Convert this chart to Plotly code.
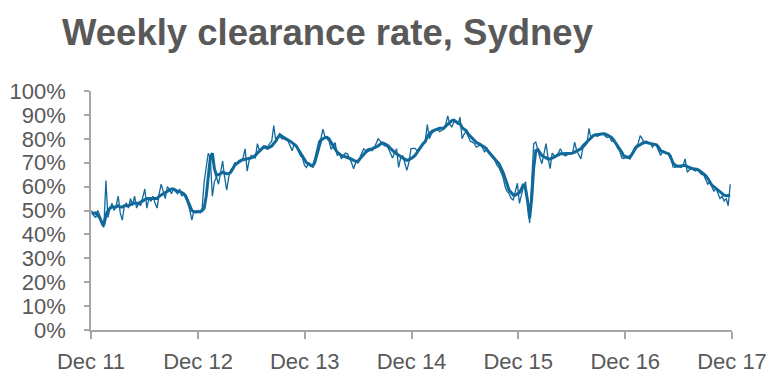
import pandas as pd
import plotly.graph_objects as go

start_date = "2011-12-03"

# Weekly clearance rate (%) - thin line
clearance_weekly = [
    # Dec 11 - Nov 12
    50, 48, 47, 50, 48, 44, 43, 62.5, 47, 51, 53, 50, 52, 56, 49, 46, 52, 53, 51, 55,
    52, 56, 51, 53, 52, 55, 59, 51, 55, 54, 56, 53, 51, 57, 61, 58, 55, 60, 59, 57,
    59, 58, 57, 59, 56, 57, 55, 53, 50, 46, 50, 49,
    # Dec 12 - Nov 13
    50, 49, 51, 62, 68, 74, 72, 56, 62, 64, 61, 66, 70.7, 64, 58.5, 64, 67, 68, 70, 69.6,
    71, 70.5, 72, 75.8, 66.5, 71, 73, 72, 72, 78, 75, 76, 77, 77, 76.5, 78, 79, 85.5,
    79, 81, 81, 80, 80, 79.5, 79, 77, 75, 78, 77, 75, 73, 72, 69,
    # Dec 13 - Nov 14
    68, 70, 68.5, 69, 71.6, 75, 79, 80, 84, 81, 80, 79, 75.6, 77, 78.4, 73, 74, 71.6,
    73, 74, 73.7, 72, 70, 67.5, 70, 71, 72, 74, 75.8, 75, 75.8, 76, 75, 76, 78, 80, 79,
    78, 77, 77, 76, 74, 72, 74, 75.8, 68, 72, 73, 70, 66.8, 70, 75.8,
    # Dec 14 - Nov 15
    76, 76, 75, 76, 77, 78, 79, 86, 80, 82, 83, 84, 84, 83, 83.5, 84, 86, 89.6, 86, 85,
    87, 87, 86, 89, 80, 82, 83, 81, 79, 78.6, 78, 76.5, 77, 78, 76, 74.4, 76.5, 74, 73,
    72, 71, 69, 68, 66, 64, 60, 58, 57, 55, 54.4, 58, 61.4,
    # Dec 15 - Nov 16
    53, 57, 60, 62, 52, 44.8, 62, 78, 78.6, 75, 72, 69.6, 74, 78, 72, 67.5, 74, 73, 73,
    74, 75.8, 74, 73, 73, 74, 73.5, 74, 78.6, 75, 73, 71.6, 76, 77, 78, 84.4, 80, 81, 82,
    81, 81.5, 82, 82.5, 81, 80.5, 81, 79, 79, 78, 76, 75, 72, 71.8,
    # Dec 16 - Nov 17
    73, 72, 71.5, 73, 75.8, 77, 78, 81.3, 80, 78, 79, 78.5, 78, 76.5, 77.9, 77, 75, 73,
    75, 74.4, 74, 73.5, 73, 68.3, 68, 69, 68.5, 68, 69, 71.6, 66, 67, 67.5, 67, 66.5,
    67, 66, 65, 65, 63, 61, 62, 60, 58, 59.3, 57, 55, 56, 54, 55, 52, 61,
]

# Smoothed clearance rate (%) - thick line
clearance_avg = [
    # Dec 11 - Nov 12
    48.8, 49, 49, 48, 47, 45, 44, 48, 50, 51, 51.5, 51.5, 51.5, 52, 51.5, 51.5, 52, 52,
    52, 52.5, 53, 53, 53, 53, 53.5, 54, 54.5, 55, 55, 55, 55, 55, 55, 56, 56.5, 57, 57.5,
    58, 58.5, 59, 59, 58.5, 58, 58, 57.5, 57, 56, 54, 51.5, 50, 49.5, 49.5,
    # Dec 12 - Nov 13
    49.5, 49.5, 50, 51, 56, 64, 72, 74, 67.5, 64.7, 65, 65.4, 66, 65.7, 65.4, 65.5, 66,
    67.5, 69, 69.6, 70.3, 71, 71.2, 71.4, 71.5, 71.6, 72, 72.5, 73, 74, 74.8, 75.7, 76.5,
    76.3, 76, 76.5, 77, 78, 79, 80.5, 81.7, 81, 80.4, 80, 79.5, 79, 78.3, 77.7, 77, 75.5,
    74, 72.5, 71,
    # Dec 13 - Nov 14
    70, 69.5, 68.9, 68.5, 70, 73, 77, 79.3, 80, 80.5, 80.6, 80, 78.5, 77, 75.5, 74.4,
    73.7, 73, 72.8, 72.5, 72.3, 72, 71.5, 71, 70.6, 70.3, 71.5, 72.5, 73.5, 74.5, 75,
    75.4, 75.7, 76, 76.5, 77, 77.7, 78.3, 78, 77.5, 77, 76, 75, 74.3, 73.7, 73, 72.3, 72,
    71.5, 71, 71.2, 71.6,
    # Dec 14 - Nov 15
    72.3, 73, 74.4, 75.5, 76.8, 78, 78.8, 81, 82, 83, 83.4, 83.8, 84.1, 84.4, 84.4, 84.4,
    85.3, 86.2, 87, 87.6, 87.8, 87, 86.6, 86.2, 84.8, 84, 83.4, 82, 81, 80, 79, 78.4, 78,
    77.5, 77, 76.5, 75.5, 74.4, 73.5, 72.5, 71.6, 70.5, 69.6, 68, 66, 63.5, 61, 58.5,
    57.5, 56.5, 56.4, 57,
    # Dec 15 - Nov 16
    57.5, 59, 61, 59, 54, 46.7, 55, 68, 75, 75.5, 74, 73, 72.5, 72, 71.6, 71.6, 71.8,
    72.3, 72.8, 73.3, 73.7, 73.7, 73.7, 73.7, 73.7, 73.9, 74, 74.4, 74.8, 75.3, 75.8, 77,
    77.9, 78.6, 79.5, 80.5, 81.3, 81.6, 81.8, 82, 82, 82, 82, 81.6, 81.2, 80.6, 79.5,
    78.3, 77, 75.5, 74.4, 72.8,
    # Dec 16 - Nov 17
    72.3, 72.3, 72.5, 73.5, 75, 76.5, 77, 77.5, 78, 78.6, 78.4, 78.2, 78, 77.9, 77.9,
    77.5, 76.5, 75, 74.6, 74.4, 74, 73.7, 72, 70, 69, 68.5, 68.5, 68.7, 68.9, 68.9, 68.3,
    67.9, 67.7, 67.5, 67.5, 67.2, 66.6, 66, 65.3, 64.6, 63.5, 62, 60.6, 60, 59.3, 58.5,
    57.8, 57, 56.4, 56.2, 56.3, 56.4,
]

tick_dates = ["2011-12-01", "2012-12-01", "2013-12-01", "2014-12-01",
              "2015-12-01", "2016-12-01", "2017-12-01"]
tick_labels = ["Dec 11", "Dec 12", "Dec 13", "Dec 14", "Dec 15", "Dec 16", "Dec 17"]
y_ticks = [0, 10, 20, 30, 40, 50, 60, 70, 80, 90, 100]

weeks_raw = pd.date_range(start_date, periods=len(clearance_weekly), freq="7D")
weeks_avg = pd.date_range(start_date, periods=len(clearance_avg), freq="7D")

line_color = "#10699A"
text_color = "#595959"
axis_color = "#A6A6A6"
font_family = "Liberation Sans, Arial, sans-serif"

fig = go.Figure()
fig.add_trace(go.Scatter(x=weeks_raw, y=clearance_weekly, mode="lines",
                         line=dict(color=line_color, width=1.3), showlegend=False))
fig.add_trace(go.Scatter(x=weeks_avg, y=clearance_avg, mode="lines",
                         line=dict(color=line_color, width=3), showlegend=False))

fig.update_layout(
    width=781, height=378,
    margin=dict(l=83, r=57, t=83, b=56, autoexpand=False),
    paper_bgcolor="white", plot_bgcolor="white",
    font=dict(family=font_family, color=text_color, size=22),
    title=dict(text="<b>Weekly clearance rate, Sydney</b>",
               x=54 / 781, xanchor="left", xref="container",
               y=1 - 24 / 378, yanchor="middle", yref="container",
               font=dict(family=font_family, size=36.5, color=text_color)),
)
fig.update_xaxes(
    type="date", range=["2011-12-01", "2017-12-01"],
    tickmode="array", tickvals=tick_dates, ticktext=tick_labels,
    showgrid=False, zeroline=False, automargin=False,
    showline=True, linecolor=axis_color, linewidth=1.5,
    ticks="outside", ticklen=7, tickcolor=axis_color, tickwidth=1.5,
    tickfont=dict(size=22, color=text_color),
    ticklabelstandoff=4,
)
fig.update_yaxes(
    range=[0, 100], tickmode="array", tickvals=y_ticks,
    ticktext=[f"{v}%" for v in y_ticks],
    showgrid=False, zeroline=False, automargin=False,
    showline=True, linecolor=axis_color, linewidth=1.5,
    ticks="outside", ticklen=5, tickcolor=axis_color, tickwidth=1.5,
    tickfont=dict(size=22, color=text_color),
    ticklabelstandoff=14,
)

fig.write_html("out.html")
